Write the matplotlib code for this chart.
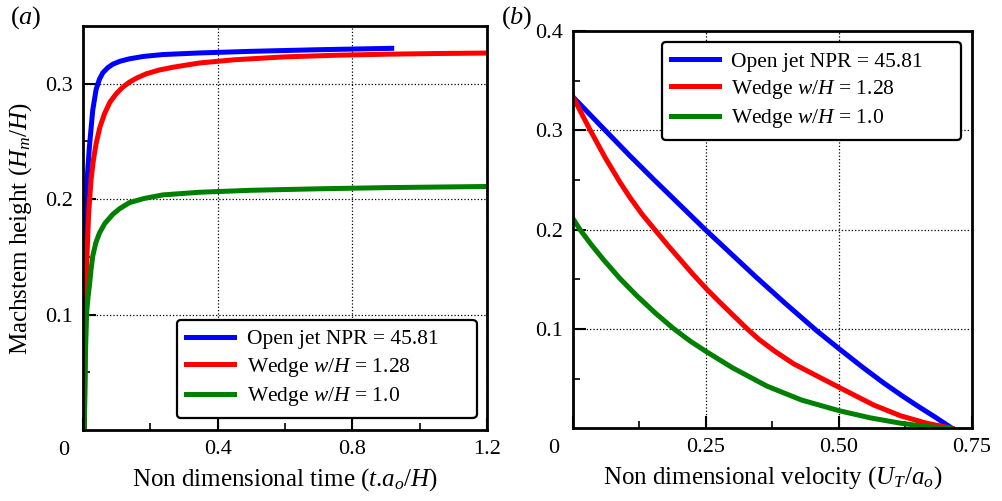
import numpy as np
import matplotlib
matplotlib.use('Agg')
import matplotlib.pyplot as plt

plt.rcParams['font.family'] = 'Liberation Serif'
plt.rcParams['mathtext.fontset'] = 'custom'
plt.rcParams['mathtext.rm'] = 'Liberation Serif'
plt.rcParams['mathtext.it'] = 'Liberation Serif:italic'

# (a) machstem height vs non dimensional time
t_open = [0.004, 0.006, 0.008, 0.0095, 0.013, 0.019, 0.029, 0.039, 0.049, 0.059, 0.074, 0.089, 0.11, 0.138,
          0.18, 0.237, 0.346, 0.50, 0.70, 0.917]
h_open = [0.000, 0.100, 0.160, 0.190, 0.220, 0.245, 0.277, 0.295, 0.304, 0.3095, 0.314, 0.317, 0.3195, 0.3216,
          0.3237, 0.3253, 0.3267, 0.3281, 0.3295, 0.3307]
t_w128 = [0.004, 0.0074, 0.011, 0.017, 0.024, 0.031, 0.039, 0.050, 0.064, 0.080, 0.099, 0.118, 0.138, 0.160,
          0.188, 0.225, 0.267, 0.346, 0.45, 0.60, 0.75, 0.90, 1.05, 1.20]
h_w128 = [0.000, 0.100, 0.145, 0.188, 0.2167, 0.234, 0.248, 0.262, 0.274, 0.284, 0.2914, 0.297, 0.3014, 0.305,
          0.3086, 0.3118, 0.3143, 0.318, 0.3208, 0.3233, 0.3247, 0.3256, 0.3262, 0.3266]
t_w10 = [0.004, 0.0074, 0.011, 0.015, 0.019, 0.024, 0.029, 0.038, 0.049, 0.065, 0.089, 0.11, 0.138, 0.18,
         0.237, 0.346, 0.50, 0.70, 0.90, 1.20]
h_w10 = [0.000, 0.067, 0.1017, 0.115, 0.1247, 0.139, 0.1506, 0.162, 0.1707, 0.179, 0.187, 0.192, 0.197, 0.2005,
         0.2037, 0.206, 0.2077, 0.209, 0.210, 0.211]

# (b) machstem height vs non dimensional velocity
u_open = [0.0, 0.057, 0.105, 0.151, 0.20, 0.248, 0.30, 0.345, 0.40, 0.458, 0.50, 0.545, 0.585, 0.62, 0.6475, 0.68,
          0.7134]
v_open = [0.3336, 0.302, 0.2755, 0.251, 0.2255, 0.2005, 0.1745, 0.152, 0.1255, 0.0985, 0.0804, 0.0615, 0.0455,
          0.0325, 0.0228, 0.0118, 0.0]
u_w128 = [0.0, 0.016, 0.032, 0.06, 0.088, 0.107, 0.130, 0.154, 0.178, 0.2015, 0.225, 0.25, 0.276, 0.30, 0.327,
          0.35, 0.38, 0.415, 0.46, 0.5005, 0.5657, 0.616, 0.665, 0.7134]
v_w128 = [0.3336, 0.317, 0.3005, 0.273, 0.248, 0.2325, 0.2155, 0.200, 0.1845, 0.170, 0.1555, 0.141, 0.127, 0.1145,
          0.1005, 0.0895, 0.0775, 0.065, 0.0525, 0.0413, 0.0235, 0.0127, 0.0052, 0.0]
u_w10 = [0.0, 0.0132, 0.035, 0.057, 0.088, 0.12, 0.155, 0.189, 0.22, 0.25, 0.30, 0.365, 0.43, 0.5005, 0.56, 0.616,
         0.665, 0.71]
v_w10 = [0.211, 0.200, 0.1845, 0.170, 0.151, 0.1335, 0.116, 0.1005, 0.088, 0.0775, 0.061, 0.0425, 0.0285, 0.0178,
         0.0105, 0.0052, 0.0018, 0.0]

labels = ['Open jet NPR = 45.81', r'Wedge $w/H$ = 1.28', r'Wedge $w/H$ = 1.0']
colors = ['blue', 'red', 'green']

fig = plt.figure(figsize=(10.02, 5.01), dpi=100)
ax1 = fig.add_axes([0.0828, 0.1417, 0.4032, 0.8063])
ax2 = fig.add_axes([0.5719, 0.145, 0.3978, 0.793])

ax1.plot(t_open, h_open, color=colors[0], lw=3.6, label=labels[0])
ax1.plot(t_w128, h_w128, color=colors[1], lw=3.6, label=labels[1])
ax1.plot(t_w10, h_w10, color=colors[2], lw=3.6, label=labels[2])

ax2.plot(u_open, v_open, color=colors[0], lw=3.6, label=labels[0])
ax2.plot(u_w128, v_w128, color=colors[1], lw=3.6, label=labels[1])
ax2.plot(u_w10, v_w10, color=colors[2], lw=3.6, label=labels[2])

ax1.set_xlim(0, 1.2)
ax1.set_ylim(0, 0.35)
ax1.set_xticks([0, 0.4, 0.8, 1.2])
ax1.set_xticklabels(['', '0.4', '0.8', '1.2'])
ax1.set_xticks([0.2, 0.6, 1.0], minor=True)
ax1.set_yticks([0.1, 0.2, 0.3])
ax1.set_yticklabels(['0.1', '0.2', '0.3'])
ax1.set_yticks([0.05, 0.15, 0.25], minor=True)

ax2.set_xlim(0, 0.75)
ax2.set_ylim(0, 0.4)
ax2.set_xticks([0, 0.25, 0.5, 0.75])
ax2.set_xticklabels(['', '0.25', '0.50', '0.75'])
ax2.set_xticks([0.125, 0.375, 0.625], minor=True)
ax2.set_yticks([0.1, 0.2, 0.3, 0.4])
ax2.set_yticklabels(['0.1', '0.2', '0.3', '0.4'])
ax2.set_yticks([0.05, 0.15, 0.25, 0.35], minor=True)

for ax in (ax1, ax2):
    for s in ax.spines.values():
        s.set_linewidth(2)
    ax.tick_params(which='major', direction='in', length=9, width=1.5, labelsize=16, pad=7)
    ax.tick_params(which='minor', direction='in', length=5, width=1.2)
    ax.grid(True, which='major', linestyle=':', color='black', lw=0.9)
    # shared zero at the corner
    ax.annotate('0', xy=(0, 0), xycoords='axes fraction', xytext=(-10, -8),
                textcoords='offset points', ha='right', va='top', fontsize=16)

ax1.set_xlabel(r'Non dimensional time ($t$.$a_o/H$)', fontsize=18, labelpad=5)
ax1.set_ylabel(r'Machstem height ($H_m/H$)', fontsize=18, labelpad=8)
ax2.set_xlabel(r'Non dimensional velocity ($U_T/a_o$)', fontsize=18, labelpad=5)

leg_kw = dict(fontsize=15.5, frameon=True, fancybox=True, edgecolor='black', mode='expand',
              framealpha=1, handlelength=2.2, handletextpad=0.6, borderpad=0.45,
              labelspacing=0.3, borderaxespad=0)
lg1 = ax1.legend(loc='lower left', bbox_to_anchor=(0.232, 0.03, 0.7425, 0.24), **leg_kw)
lg2 = ax2.legend(loc='upper left', bbox_to_anchor=(0.222, 0.724, 0.752, 0.249), **leg_kw)
for lg in (lg1, lg2):
    lg.get_frame().set_linewidth(1.6)

fig.text(0.010, 0.952, r'($a$)', fontsize=19)
fig.text(0.500, 0.952, r'($b$)', fontsize=19)

fig.savefig('out.png', dpi=100)
